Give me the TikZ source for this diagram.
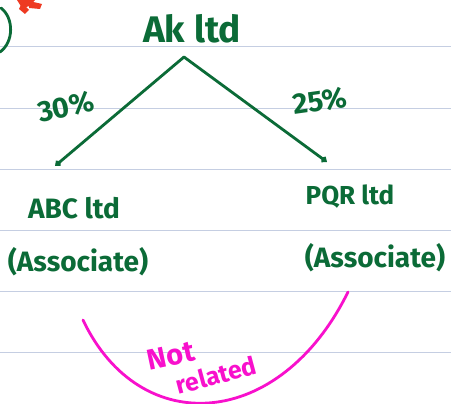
\documentclass[tikz,border=0pt]{standalone}
\usepackage{fontspec}
\setmainfont{Fira Sans}
\usetikzlibrary{arrows.meta}
\definecolor{ink}{HTML}{0B6B37}
\definecolor{pink}{HTML}{F810CC}
\definecolor{rule}{HTML}{C5CEE2}
\definecolor{star}{HTML}{EE3A22}
\begin{document}
\begin{tikzpicture}[x=1pt,y=-1pt,
  hand/.style={text=ink,font=\bfseries\fontsize{#1}{#1}\selectfont,inner sep=0pt},
  pinktext/.style={text=pink,font=\bfseries\fontsize{#1}{#1}\selectfont,inner sep=0pt},
  conn/.style={draw=ink,line width=2.8pt,line cap=round,-{Straight Barb[length=3pt,width=5pt]}},
  rulestyle/.style={draw=rule,line width=1pt}]
\useasboundingbox (0,0) rectangle (451,404);
\fill[white] (0,0) rectangle (451,404);
% ruled lines
\foreach \yy in {47,109,170,231,292,353}
  \draw[rulestyle] (0,\yy) -- (451,\yy);
% top-left remnants
\draw[ink,line width=2.8pt,line cap=round] (1,8) .. controls (14,18) and (14,42) .. (0,52);
\fill[star] (17,0) -- (22,8) -- (30,6) -- (35,0) -- cycle;
\fill[star] (22,3) -- (29,10) -- (25,14) -- (19,9) -- cycle;
\fill[star] (29,1) -- (42,4) -- (40,9) -- (29,8) -- cycle;
% nodes
\node[hand=37] (ak) at (192,29) {Ak ltd};
\coordinate (apex) at (184,57);
\node[hand=28] (abc) at (74,208) {ABC ltd};
\node[hand=26] (pqr) at (350,197) {PQR ltd};
\node[hand=28] (assoc1) at (78,262) {(Associate)};
\node[hand=28] (assoc2) at (375,258) {(Associate)};
\coordinate (lend) at (55,166);
\coordinate (rend) at (327,162);
\draw[conn] (apex) -- (lend);
\draw[conn] (apex) -- (rend);
\node[hand=29,rotate=12] (p30) at (66,107) {30\%};
\node[hand=29,rotate=8] (p25) at (320,101) {25\%};
% not related
\coordinate (cl) at (83,320);
\coordinate (cr) at (348,292);
\draw[pink,line width=2.8pt,line cap=round] (cl) .. controls (140,440) and (280,430) .. (cr);
\node[pinktext=29,rotate=12] (nrnot) at (171,356) {Not};
\node[pinktext=25,rotate=15] (nrrel) at (216,375) {related};
\end{tikzpicture}
\end{document}
